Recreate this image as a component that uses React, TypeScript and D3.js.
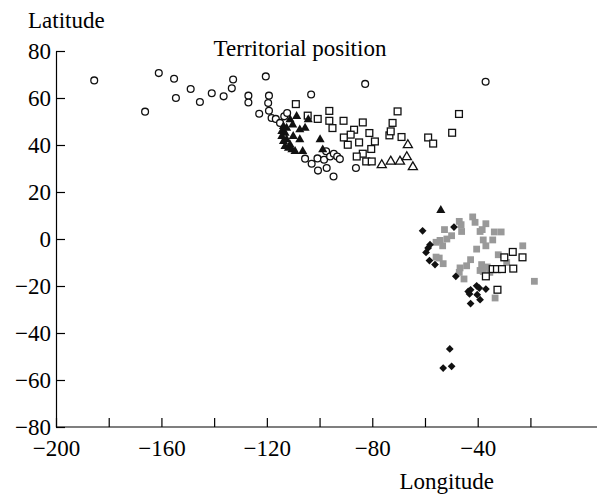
import React, { useRef, useEffect } from 'react'
import * as d3 from 'd3'

type Pt = [number, number] // [longitude, latitude]

// open circles
const openCircles: Pt[] = [
  [-185.5, 67.5], [-161.0, 70.6], [-155.2, 68.2], [-154.5, 60.0], [-148.9, 63.8],
  [-166.2, 54.2], [-145.4, 58.3], [-140.9, 62.0], [-136.4, 60.7], [-132.8, 67.9],
  [-133.3, 64.1], [-127.0, 61.0], [-127.0, 58.1], [-122.9, 53.3], [-120.4, 69.2],
  [-82.7, 66.0], [-37.0, 66.9], [-119.2, 61.0], [-119.5, 57.9], [-103.2, 61.5],
  [-119.2, 54.6], [-118.2, 51.5], [-116.6, 51.1], [-113.4, 52.2], [-112.3, 53.6],
  [-115.0, 49.4], [-105.5, 34.2], [-103.0, 32.0], [-100.8, 34.3], [-100.6, 29.1],
  [-97.3, 30.2], [-98.3, 33.7], [-97.5, 37.3], [-96.0, 35.1], [-94.6, 36.3],
  [-93.3, 35.1], [-92.3, 34.0], [-94.7, 26.6], [-86.2, 30.2],
]

// filled triangles
const filledTriangles: Pt[] = [
  [-108.7, 52.2], [-104.3, 50.8], [-111.2, 50.8], [-105.5, 47.2], [-107.5, 46.5],
  [-113.7, 47.9], [-113.1, 45.1], [-112.5, 42.3], [-113.7, 41.5], [-111.2, 40.1],
  [-111.8, 38.7], [-110.5, 38.0], [-109.3, 37.3], [-107.5, 42.3], [-99.8, 42.3],
  [-106.4, 37.3], [-98.8, 38.0], [-114.3, 45.8], [-113.1, 39.4], [-114.3, 43.7],
  [-112.5, 47.2], [-110.0, 43.7], [-110.2, 48.6], [-54.0, 12.2],
]

// open triangles
const openTriangles: Pt[] = [
  [-76.4, 31.5], [-73.0, 33.0], [-69.5, 33.0], [-66.9, 34.9], [-64.6, 30.6], [-66.5, 40.0],
]

// open squares
const openSquares: Pt[] = [
  [-109.0, 57.4], [-104.5, 52.5], [-100.7, 51.1], [-96.3, 54.5], [-96.3, 50.3],
  [-95.1, 47.2], [-90.9, 50.3], [-83.6, 49.6], [-86.9, 46.5], [-88.2, 44.4],
  [-90.8, 43.2], [-89.3, 40.1], [-85.0, 41.1], [-81.1, 45.1], [-79.0, 41.5],
  [-80.4, 38.3], [-83.6, 36.3], [-85.9, 35.1], [-82.3, 33.0], [-80.2, 33.0],
  [-73.5, 44.1], [-72.3, 49.4], [-70.4, 54.3], [-68.9, 43.4], [-58.8, 43.2],
  [-56.9, 40.6], [-49.7, 45.2], [-47.1, 53.2], [-73.0, 45.8],
  [-26.7, -5.5], [-29.9, -7.8], [-23.0, -7.8], [-34.3, -12.8], [-32.7, -12.8],
  [-30.8, -12.8], [-26.5, -12.6], [-36.9, -15.9], [-32.5, -21.6],
]

// filled diamonds
const diamonds: Pt[] = [
  [-60.9, 3.5], [-49.0, 5.1], [-58.1, -2.4], [-58.8, -3.8], [-59.6, -5.7],
  [-58.3, -9.2], [-56.2, -10.9], [-48.3, -15.9], [-43.6, -22.3], [-42.7, -21.6],
  [-43.1, -23.4], [-40.4, -19.9], [-39.4, -20.9], [-36.9, -21.3], [-40.2, -23.7],
  [-39.1, -25.8], [-42.7, -27.5], [-50.6, -46.8], [-53.1, -54.9], [-49.9, -54.2],
]

// grey squares
const greySquares: Pt[] = [
  [-52.6, 4.0], [-47.0, 7.5], [-46.3, 6.1], [-46.1, 3.2], [-41.9, 9.4],
  [-41.0, 7.1], [-36.9, 6.5], [-39.1, 3.2], [-38.3, 4.0], [-33.7, 3.0],
  [-31.1, 3.0], [-49.9, 1.4], [-51.7, 0.0], [-54.3, -0.6], [-55.8, -1.4],
  [-53.3, -2.9], [-37.9, -0.4], [-34.3, -0.4], [-40.4, -4.3], [-36.9, -2.9],
  [-32.2, -6.7], [-22.9, -2.9], [-42.7, -8.8], [-44.2, -11.4], [-46.7, -12.3],
  [-47.0, -14.2], [-53.1, -10.5], [-54.6, -8.1], [-55.8, -7.7], [-38.5, -10.9],
  [-39.1, -13.4], [-37.9, -13.8], [-36.4, -11.9], [-35.4, -14.2], [-45.2, -17.0],
  [-29.0, -10.0], [-33.4, -25.1], [-18.5, -18.0],
]

const xTicks = d3.range(-200, -19, 20)
const xLabels = [-200, -160, -120, -80, -40]
const yTicks = d3.range(-80, 81, 20)

const width = 597
const height = 497
const font = '"Liberation Serif", "Times New Roman", serif'
const fontSize = 23

const App: React.FC = () => {
  const svgRef = useRef<SVGSVGElement | null>(null)

  useEffect(() => {
    if (!svgRef.current) return
    const svg = d3.select(svgRef.current)
    svg.selectAll('*').remove()

    const x = d3.scaleLinear().domain([-200, -40]).range([56, 477.7])
    const y = d3.scaleLinear().domain([-80, 80]).range([427, 51])

    // axes, ticks pointing inward
    const xAxis = svg.append('g')
      .attr('transform', `translate(0,${y(-80)})`)
      .call(d3.axisBottom(x)
        .tickValues(xTicks)
        .tickSizeInner(-9)
        .tickSizeOuter(0)
        .tickPadding(13)
        .tickFormat(d => (xLabels.includes(+d) ? d3.format('')(+d) : '')))
    xAxis.select('.domain').attr('d', `M${x(-200)},0H${width}`)

    svg.append('g')
      .attr('transform', `translate(${x(-200)},0)`)
      .call(d3.axisLeft(y)
        .tickValues(yTicks)
        .tickSizeInner(-9)
        .tickSizeOuter(0)
        .tickPadding(5))

    svg.selectAll('g').attr('font-family', font).attr('font-size', fontSize)
    svg.selectAll('.domain, .tick line')
      .attr('stroke', '#000')
      .attr('stroke-width', 1.2)
    svg.selectAll('.tick text').attr('fill', '#000')

    const plot = svg.append('g')
    const sq = 6.8

    // grey squares
    plot.selectAll('rect.grey')
      .data(greySquares)
      .join('rect')
      .attr('class', 'grey')
      .attr('x', d => x(d[0]) - sq / 2)
      .attr('y', d => y(d[1]) - sq / 2)
      .attr('width', sq)
      .attr('height', sq)
      .attr('fill', '#999')

    // open squares
    plot.selectAll('rect.open')
      .data(openSquares)
      .join('rect')
      .attr('class', 'open')
      .attr('x', d => x(d[0]) - sq / 2)
      .attr('y', d => y(d[1]) - sq / 2)
      .attr('width', sq)
      .attr('height', sq)
      .attr('fill', '#fff')
      .attr('stroke', '#111')
      .attr('stroke-width', 1.3)

    // open circles
    plot.selectAll('circle')
      .data(openCircles)
      .join('circle')
      .attr('cx', d => x(d[0]))
      .attr('cy', d => y(d[1]))
      .attr('r', 3.4)
      .attr('fill', '#fff')
      .attr('stroke', '#111')
      .attr('stroke-width', 1.3)

    const tri = d3.symbol(d3.symbolTriangle, 36)
    const dia = d3.symbol(d3.symbolSquare, 30)

    plot.selectAll('path.otri')
      .data(openTriangles)
      .join('path')
      .attr('class', 'otri')
      .attr('d', tri)
      .attr('transform', d => `translate(${x(d[0])},${y(d[1])})`)
      .attr('fill', '#fff')
      .attr('stroke', '#111')
      .attr('stroke-width', 1.3)

    plot.selectAll('path.ftri')
      .data(filledTriangles)
      .join('path')
      .attr('class', 'ftri')
      .attr('d', tri)
      .attr('transform', d => `translate(${x(d[0])},${y(d[1])})`)
      .attr('fill', '#111')

    plot.selectAll('path.dia')
      .data(diamonds)
      .join('path')
      .attr('class', 'dia')
      .attr('d', dia)
      .attr('transform', d => `translate(${x(d[0])},${y(d[1])}) rotate(45)`)
      .attr('fill', '#111')

    // titles
    const label = (tx: number, ty: number, anchor: string, s: string) =>
      svg.append('text')
        .attr('x', tx)
        .attr('y', ty)
        .attr('text-anchor', anchor)
        .attr('font-family', font)
        .attr('font-size', fontSize)
        .attr('fill', '#000')
        .text(s)

    label(28, 28, 'start', 'Latitude')
    label(300, 56, 'middle', 'Territorial position')
    label(494, 489, 'end', 'Longitude')
  }, [])

  return (
    <svg
      ref={svgRef}
      width={width}
      height={height}
      style={{ position: 'absolute', left: 0, top: 0, background: '#fff' }}
    />
  )
}

export default App
